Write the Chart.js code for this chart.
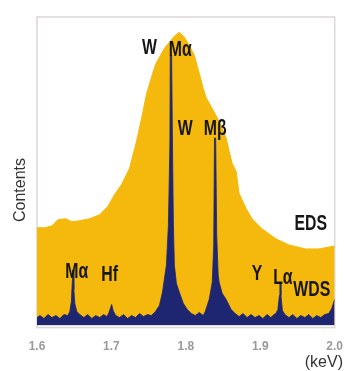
<!DOCTYPE html>
<html>
<head>
<meta charset="utf-8">
<script src="https://cdn.jsdelivr.net/npm/chart.js@4"></script>
<style>
  html, body { margin: 0; background: #fff; overflow: hidden; }
  #wrap { width: 344px; height: 371px; position: relative; }
  canvas { display: block; }
</style>
</head>
<body>
<div id="wrap"><canvas id="myChart"></canvas></div>
<script>
// EDS spectrum (broad yellow envelope)
const edsKeV = [1.6000, 1.6107, 1.6201, 1.6281, 1.6388, 1.6468, 1.6575, 1.6709, 1.6843, 1.6950,
  1.7043, 1.7137, 1.7244, 1.7338, 1.7418, 1.7472, 1.7538, 1.7592, 1.7645, 1.7712, 1.7779,
  1.7846, 1.7913, 1.7980, 1.8047, 1.8114, 1.8181, 1.8234, 1.8274, 1.8341, 1.8408, 1.8475,
  1.8542, 1.8582, 1.8622, 1.8676, 1.8716, 1.8810, 1.8890, 1.9023, 1.9211, 1.9385, 1.9612,
  1.9786, 2.0000];
const edsCounts = [97, 97, 99, 105, 106, 103, 104, 106, 110, 118,
  130, 140, 156, 183, 210, 230, 246, 259, 266, 275, 281,
  287, 291, 286, 278, 268, 250, 235, 226, 217, 208, 198,
  186, 173, 161, 153, 131, 116, 106, 96, 86, 80, 76,
  76, 79];

// WDS spectrum (sharp navy peaks)
const wdsKeV = [1.6000, 1.6040, 1.6094, 1.6147, 1.6201, 1.6254, 1.6308, 1.6361, 1.6415, 1.6441,
  1.6462, 1.6475, 1.6478, 1.6486, 1.6495, 1.6508, 1.6535, 1.6575, 1.6629, 1.6682,
  1.6736, 1.6789, 1.6843, 1.6896, 1.6936, 1.6963, 1.6990, 1.7003, 1.7023, 1.7057,
  1.7110, 1.7164, 1.7217, 1.7271, 1.7324, 1.7378, 1.7431, 1.7485, 1.7538, 1.7592,
  1.7645, 1.7686, 1.7739, 1.7766, 1.7786, 1.7791, 1.7809, 1.7822, 1.7833, 1.7846,
  1.7873, 1.7913, 1.7967, 1.8020, 1.8074, 1.8127, 1.8181, 1.8234, 1.8261, 1.8314,
  1.8355, 1.8375, 1.8385, 1.8401, 1.8415, 1.8435, 1.8448, 1.8488, 1.8542, 1.8609,
  1.8662, 1.8716, 1.8769, 1.8823, 1.8876, 1.8930, 1.8983, 1.9037, 1.9090, 1.9144,
  1.9184, 1.9211, 1.9237, 1.9258, 1.9264, 1.9270, 1.9278, 1.9298, 1.9331, 1.9385,
  1.9438, 1.9492, 1.9545, 1.9599, 1.9652, 1.9706, 1.9759, 1.9813, 1.9866, 1.9920,
  1.9960, 2.0000];
const wdsCounts = [8, 10, 7, 11, 8, 10, 7, 11, 10, 14,
  24, 45, 55, 55, 36, 22, 14, 11, 8, 11,
  7, 10, 8, 11, 9, 12, 18, 21, 15, 10,
  8, 11, 7, 10, 8, 12, 9, 11, 10, 14,
  20, 33, 60, 100, 180, 268, 268, 170, 100, 60,
  42, 33, 22, 16, 12, 10, 13, 10, 14, 26,
  43, 80, 186, 186, 90, 50, 43, 32, 26, 16,
  12, 9, 12, 8, 11, 8, 10, 7, 11, 8,
  11, 12, 16, 30, 43, 43, 30, 15, 11, 8,
  11, 7, 10, 8, 11, 7, 10, 8, 11, 12,
  17, 26];

const xTicks = [1.6, 1.7, 1.8, 1.9, 2.0];

// peak annotations: text, keV, height
const labelText = ['W', 'Mα', 'W', 'Mβ', 'EDS', 'Mα', 'Hf', 'Y', 'Lα', 'WDS'];
const labelKeV = [1.7512, 1.7926, 1.7993, 1.8395, 1.9679, 1.6535, 1.6977, 1.8957, 1.9304, 1.9692];
const labelCounts = [275, 273, 195, 195, 101, 53, 50, 51, 47, 35];

function pts(xs, ys) {
  return xs.map((x, i) => ({ x: x, y: ys[i] }));
}

const extras = {
  id: 'extras',
  beforeDatasetsDraw(chart) {
    const a = chart.chartArea, ctx = chart.ctx;
    ctx.save();
    ctx.strokeStyle = '#ddd6d6';
    ctx.lineWidth = 1.5;
    ctx.strokeRect(a.left, a.top, a.right - a.left, a.bottom - a.top + 2);
    ctx.restore();
  },
  afterDatasetsDraw(chart) {
    const ctx = chart.ctx, xs = chart.scales.x, ys = chart.scales.y;
    ctx.save();
    ctx.fillStyle = '#161616';
    ctx.font = 'bold 22px "Liberation Sans Narrow", "Liberation Sans", sans-serif';
    ctx.textAlign = 'center';
    ctx.textBaseline = 'middle';
    labelText.forEach((t, i) => {
      const px = xs.getPixelForValue(labelKeV[i]);
      const py = ys.getPixelForValue(labelCounts[i]);
      ctx.save();
      ctx.translate(px, py);
      ctx.scale(0.72, 1);
      ctx.fillText(t, 0, 0);
      ctx.restore();
    });
    ctx.restore();

    ctx.save();
    ctx.fillStyle = '#333';
    ctx.font = '16px "Liberation Sans", Arial, sans-serif';
    ctx.textAlign = 'right';
    ctx.textBaseline = 'middle';
    ctx.fillText('(keV)', 343, 363);
    ctx.translate(21, 190);
    ctx.rotate(-Math.PI / 2);
    ctx.textAlign = 'center';
    ctx.fillText('Contents', 0, 0);
    ctx.restore();
  }
};

new Chart('myChart', {
  type: 'line',
  data: {
    datasets: [
      {
        label: 'WDS',
        data: pts(wdsKeV, wdsCounts),
        backgroundColor: '#1e2672',
        borderColor: '#1e2672',
        borderWidth: 0.8,
        fill: 'origin',
        pointRadius: 0,
        tension: 0
      },
      {
        label: 'EDS',
        data: pts(edsKeV, edsCounts),
        backgroundColor: '#f4b90c',
        borderColor: '#f4b90c',
        borderWidth: 1,
        fill: 'origin',
        pointRadius: 0,
        tension: 0
      }
    ]
  },
  options: {
    responsive: true,
    maintainAspectRatio: false,
    animation: false,
    layout: { padding: { left: 37, right: 8, top: 17, bottom: 16 } },
    plugins: { legend: { display: false }, tooltip: { enabled: false } },
    scales: {
      x: {
        type: 'linear',
        min: 1.6,
        max: 2.0,
        grid: { display: false, drawTicks: true, tickLength: 13 },
        border: { display: false },
        afterBuildTicks: (axis) => { axis.ticks = xTicks.map(v => ({ value: v })); },
        ticks: {
          padding: 1,
          color: '#9a9a9a',
          font: { size: 12, weight: 'bold', family: '"Liberation Sans", Arial, sans-serif' },
          callback: (v) => Number(v).toFixed(1)
        }
      },
      y: {
        display: false,
        min: 0,
        max: 306
      }
    }
  },
  plugins: [extras]
});
</script>
</body>
</html>
